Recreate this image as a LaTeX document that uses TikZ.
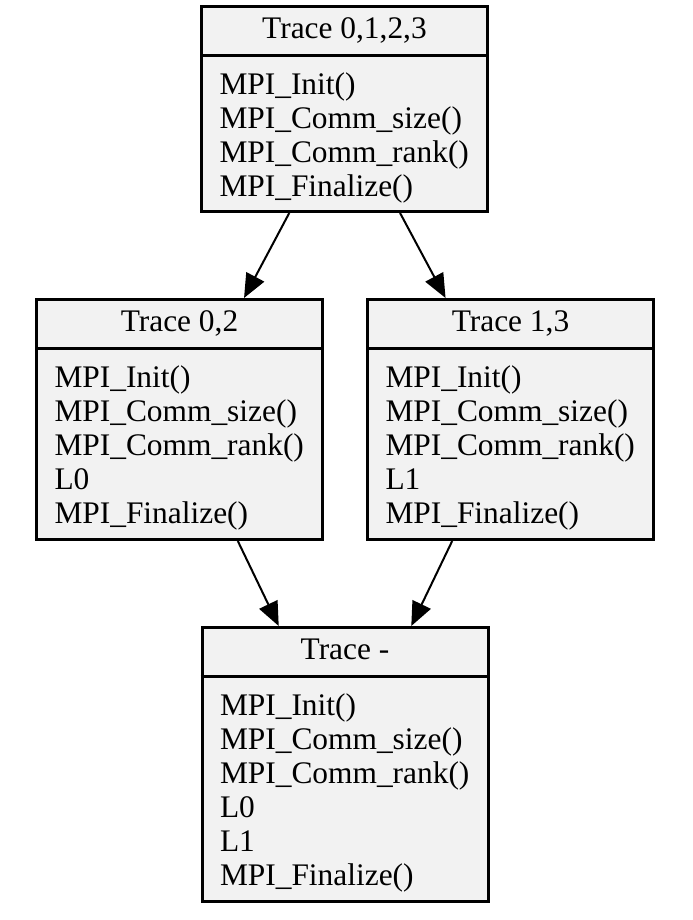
\documentclass[tikz,border=0pt]{standalone}
\usepackage{fontspec}
\setmainfont{Liberation Serif}
\usetikzlibrary{arrows.meta}
\definecolor{tracefill}{HTML}{F2F2F2}
\tikzset{
  trace/.style={draw,line width=1.5pt,fill=tracefill,minimum width=143pt,inner sep=0pt},
  head/.style={anchor=base,font=\fontsize{15.7}{17}\selectfont},
  calls/.style={anchor=north west,align=left,inner sep=0pt,font=\fontsize{15.7}{17}\selectfont},
}
\begin{document}
\begin{tikzpicture}[->,>={Triangle[length=12pt,width=10pt]},line width=1pt,x=1pt,y=1pt]
\useasboundingbox (0,0) rectangle (346,-460);

\node (all) [trace,minimum height=102.5pt] at (172.25,-54.5) {};
\node (even) [trace,minimum height=120pt] at (89.75,-209.75) {};
\node (odd) [trace,minimum height=120pt] at (255.25,-209.75) {};
\node (merged) [trace,minimum height=137pt] at (172.5,-382.25) {};

% header line of each box
\foreach \t in {all,even,odd,merged}
  \draw [-,line width=1.5pt] ([yshift=-25.25pt]\t.north west) -- ([yshift=-25.25pt]\t.north east);

\node [head,yshift=-16.75pt] at (all.north) {Trace 0,1,2,3};
\node [head,yshift=-16.75pt] at (even.north) {Trace 0,2};
\node [head,yshift=-16.75pt] at (odd.north) {Trace 1,3};
\node [head,yshift=-16.75pt] at (merged.north) {Trace -};

\node [calls,xshift=9.25pt,yshift=-33.4pt] at (all.north west)
  {MPI\_Init()\\MPI\_Comm\_size()\\MPI\_Comm\_rank()\\MPI\_Finalize()};
\node [calls,xshift=9.25pt,yshift=-33.4pt] at (even.north west)
  {MPI\_Init()\\MPI\_Comm\_size()\\MPI\_Comm\_rank()\\L0\\MPI\_Finalize()};
\node [calls,xshift=9.25pt,yshift=-33.4pt] at (odd.north west)
  {MPI\_Init()\\MPI\_Comm\_size()\\MPI\_Comm\_rank()\\L1\\MPI\_Finalize()};
\node [calls,xshift=9.25pt,yshift=-33.4pt] at (merged.north west)
  {MPI\_Init()\\MPI\_Comm\_size()\\MPI\_Comm\_rank()\\L0\\L1\\MPI\_Finalize()};

\path [->]
    (all) edge (even)
    (all) edge (odd)
    (even) edge (merged)
    (odd) edge (merged)
;

\end{tikzpicture}
\end{document}
